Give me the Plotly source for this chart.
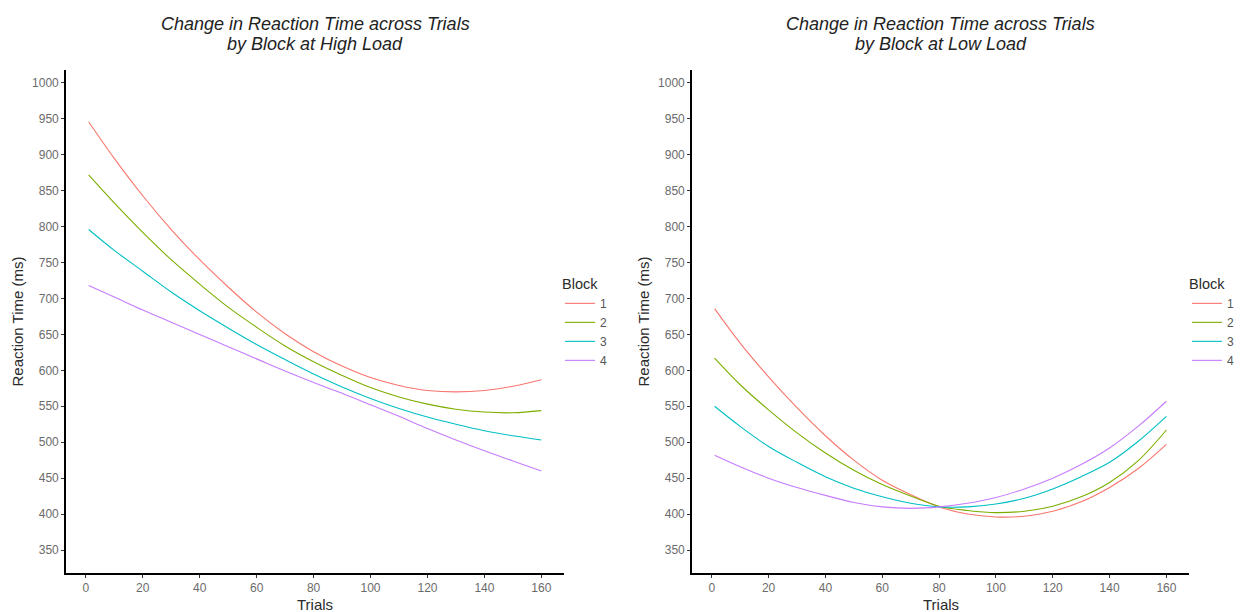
import plotly.graph_objects as go

# ---- data ----
trials = [1, 10, 20, 30, 40, 50, 60, 70, 80, 90, 100, 110, 120, 130, 140, 150, 160]
blocks = ["1", "2", "3", "4"]
colors = ["#F8766D", "#7CAE00", "#00BFC4", "#C77CFF"]

high_b1 = [946, 895, 843, 796, 754, 716, 681, 651, 626, 606, 590, 579, 572, 570, 572, 578, 587]
high_b2 = [872, 833, 792, 754, 720, 688, 660, 634, 612, 593, 576, 563, 553, 546, 542, 541, 544]
high_b3 = [796, 767, 738, 709, 683, 659, 636, 615, 595, 577, 561, 547, 535, 525, 516, 509, 503]
high_b4 = [718, 702, 684, 667, 650, 633, 616, 599, 583, 568, 552, 536, 519, 503, 488, 474, 460]

low_b1 = [686, 638, 591, 548, 509, 475, 447, 427, 410, 400, 396, 397, 404, 417, 437, 463, 497]
low_b2 = [617, 580, 545, 513, 485, 461, 441, 425, 411, 405, 402, 404, 411, 424, 444, 474, 517]
low_b3 = [550, 522, 494, 472, 452, 436, 424, 415, 410, 410, 414, 422, 435, 452, 472, 501, 536]
low_b4 = [482, 466, 450, 437, 426, 416, 410, 408, 410, 415, 423, 435, 450, 469, 492, 522, 557]

high = [high_b1, high_b2, high_b3, high_b4]
low = [low_b1, low_b2, low_b3, low_b4]

x_ticks = [0, 20, 40, 60, 80, 100, 120, 140, 160]
y_ticks = [350, 400, 450, 500, 550, 600, 650, 700, 750, 800, 850, 900, 950, 1000]

title_line1 = "Change in Reaction Time across Trials"
title_line2 = ["by Block at High Load", "by Block at Low Load"]
x_title = "Trials"
y_title = "Reaction Time (ms)"

# The page body has an 8px margin: size the figure to the visible window area
OFF = 8
W, H = 1243 - OFF, 612 - OFF
FONT = "Liberation Sans, Arial, sans-serif"

fig = go.Figure()
for i, b in enumerate(blocks):
    fig.add_trace(go.Scatter(x=trials, y=high[i], mode="lines", name=b,
                             line=dict(color=colors[i], width=1.1, shape="spline"),
                             xaxis="x", yaxis="y", legend="legend"))
for i, b in enumerate(blocks):
    fig.add_trace(go.Scatter(x=trials, y=low[i], mode="lines", name=b,
                             line=dict(color=colors[i], width=1.1, shape="spline"),
                             xaxis="x2", yaxis="y2", legend="legend2"))

def px_x(p):
    return (p - OFF) / W

def px_y(p):
    return 1 - (p - OFF) / H

xd1 = [px_x(66), px_x(564)]
xd2 = [px_x(692), px_x(1189)]
yd = [px_y(573), px_y(70)]

axis_common = dict(showline=True, linecolor="black", linewidth=1.6, ticks="outside",
                   ticklen=3, tickwidth=1, tickcolor="#333333", showgrid=False,
                   zeroline=False, tickfont=dict(family=FONT, size=12, color="#6b6b6b"))

xa = dict(axis_common, range=[-6.95, 167.95], tickvals=x_ticks)
ya = dict(axis_common, range=[318, 1018], tickvals=y_ticks,
          title=dict(text=y_title, font=dict(family=FONT, size=15, color="#2b2b2b"), standoff=5))

leg_common = dict(xanchor="left", yanchor="top",
                  title=dict(text="Block", font=dict(family=FONT, size=14.5, color="#2b2b2b")),
                  font=dict(family=FONT, size=12, color="#555555"), bgcolor="rgba(0,0,0,0)",
                  tracegroupgap=0, itemwidth=30)

annotations = []
for xd, l2 in [(xd1, title_line2[0]), (xd2, title_line2[1])]:
    cx = (xd[0] + xd[1]) / 2
    annotations.append(dict(text="<i>" + title_line1 + "</i>", x=cx, y=px_y(24),
                            xref="paper", yref="paper", xanchor="center", yanchor="middle",
                            showarrow=False, font=dict(family=FONT, size=18, color="#222222")))
    annotations.append(dict(text="<i>" + l2 + "</i>", x=cx, y=px_y(44),
                            xref="paper", yref="paper", xanchor="center", yanchor="middle",
                            showarrow=False, font=dict(family=FONT, size=18, color="#222222")))
    annotations.append(dict(text=x_title, x=cx, y=px_y(604),
                            xref="paper", yref="paper", xanchor="center", yanchor="middle",
                            showarrow=False, font=dict(family=FONT, size=15, color="#2b2b2b")))

fig.update_layout(
    width=W, height=H,
    margin=dict(l=0, r=0, t=0, b=0),
    paper_bgcolor="white", plot_bgcolor="white",
    font=dict(family=FONT),
    xaxis=dict(xa, domain=xd1, anchor="y"),
    yaxis=dict(ya, domain=yd, anchor="x"),
    xaxis2=dict(xa, domain=xd2, anchor="y2"),
    yaxis2=dict(ya, domain=yd, anchor="x2"),
    legend=dict(leg_common, x=px_x(560), y=px_y(270)),
    legend2=dict(leg_common, x=px_x(1187), y=px_y(270)),
    annotations=annotations,
)

fig.write_html("out.html")
